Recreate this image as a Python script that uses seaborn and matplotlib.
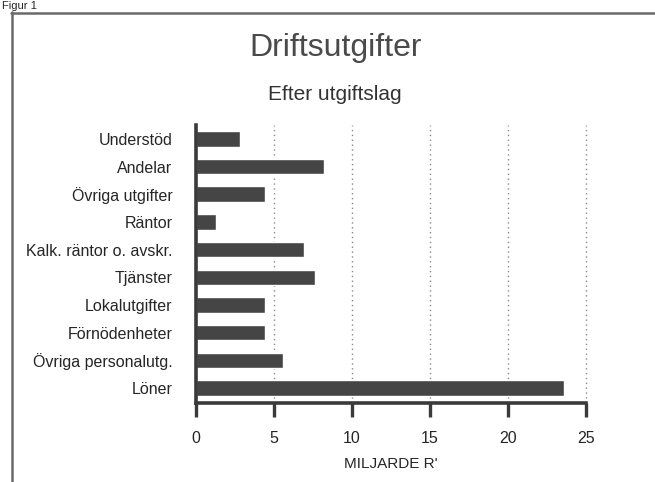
import matplotlib
matplotlib.use("Agg")
import matplotlib.pyplot as plt
import seaborn as sns
import pandas as pd
from matplotlib.lines import Line2D

categories = ["Understöd", "Andelar", "Övriga utgifter", "Räntor",
              "Kalk. räntor o. avskr.", "Tjänster", "Lokalutgifter",
              "Förnödenheter", "Övriga personalutg.", "Löner"]
values = [2.8, 8.2, 4.4, 1.3, 6.9, 7.6, 4.4, 4.4, 5.6, 23.6]
xticks = [0, 5, 10, 15, 20, 25]

title = "Driftsutgifter"
subtitle = "Efter utgiftslag"
xlabel = "MILJARDE R'"
figlabel = "Figur 1"

sns.set_theme(style="white")
plt.rcParams['font.family'] = ['Liberation Sans', 'DejaVu Sans']

TXT = "#262626"
BAR = "#454545"

fig = plt.figure(figsize=(6.55, 4.82), dpi=100)
W, H = 655, 482
ax = fig.add_axes([196 / W, 1 - 403 / H, 390 / W, 278 / H])

df = pd.DataFrame({"cat": categories, "val": values})
sns.barplot(data=df, x="val", y="cat", orient="h", color=BAR, saturation=1,
            width=0.56, ax=ax)

ax.set_xlim(0, 25)
ax.set_ylim(9.54, -0.5)
ax.set_xticks(xticks)
ax.set_xticklabels([str(t) for t in xticks])
ax.grid(axis="x", linestyle=(0, (1, 2.5)), color="#8a8a8a", linewidth=1.0)
ax.grid(axis="y", visible=False)
ax.set_axisbelow(True)
for gl in ax.get_xgridlines():
    gl.set_clip_on(False)

for s in ["top", "right"]:
    ax.spines[s].set_visible(False)
for s in ["left", "bottom"]:
    ax.spines[s].set_linewidth(2.6)
    ax.spines[s].set_color("#3a3a3a")

ax.tick_params(axis="x", direction="out", length=10, width=2.4, color="#3a3a3a",
               pad=10, labelsize=11.5, labelcolor=TXT, bottom=True)
ax.tick_params(axis="y", length=0, pad=17, labelsize=11.5, labelcolor=TXT)
ax.set_ylabel("")
ax.set_xlabel(xlabel, fontsize=11, color=TXT, labelpad=8)

fig.text(336 / W, 1 - 56 / H, title, ha="center", va="baseline",
         fontsize=23, color="#4a4a4a")
fig.text(335 / W, 1 - 100 / H, subtitle, ha="center", va="baseline",
         fontsize=15, color="#333333")
fig.text(2 / W, 1 - 9 / H, figlabel, ha="left", va="baseline",
         fontsize=8, color=TXT)

# outer frame
fig.add_artist(Line2D([11.5 / W, 11.5 / W], [0, 1 - 12 / H], transform=fig.transFigure,
                      color="#6a6a6a", linewidth=1.8))
fig.add_artist(Line2D([11 / W, 1], [1 - 12.5 / H, 1 - 12.5 / H], transform=fig.transFigure,
                      color="#6a6a6a", linewidth=1.8))

fig.savefig("out.png", dpi=100)
